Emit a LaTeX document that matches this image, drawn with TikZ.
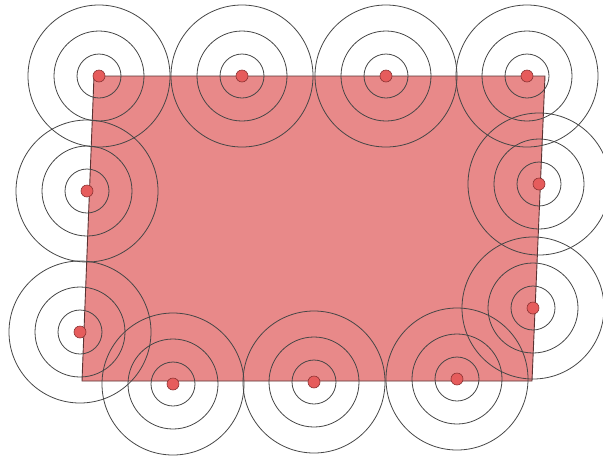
\documentclass[tikz,border=0pt]{standalone}
\begin{document}
\begin{tikzpicture}[x=1pt,y=-1pt,
  area/.style={fill={rgb,255:red,232;green,137;blue,137},draw={rgb,255:red,90;green,50;blue,50},line width=0.9pt},
  ring/.style={draw={rgb,255:red,70;green,70;blue,70},line width=0.8pt},
  dot/.style={circle,fill={rgb,255:red,230;green,92;blue,92},draw={rgb,255:red,140;green,50;blue,50},line width=0.6pt,minimum size=12pt,inner sep=0pt}]
\useasboundingbox (0,0) rectangle (603,456);
\coordinate (A) at (94,76);
\coordinate (B) at (545,76);
\coordinate (C) at (532,381);
\coordinate (D) at (82,381);
\draw[area] (A) -- (B) -- (C) -- (D) -- cycle;
\foreach \n/\x/\y in {p1/99/76, p2/242/76, p3/386/76, p4/527/76, p5/87/191, p6/539/184, p7/80/332, p8/533/308, p9/173/384, p10/314/382, p11/457/379}{
  \coordinate (c\n) at (\x,\y);
  \draw[ring] (c\n) circle (22) (c\n) circle (45) (c\n) circle (71);
}
\foreach \n in {p1,p2,p3,p4,p5,p6,p7,p8,p9,p10,p11}{
  \node[dot] (d\n) at (c\n) {};
}
\end{tikzpicture}
\end{document}
